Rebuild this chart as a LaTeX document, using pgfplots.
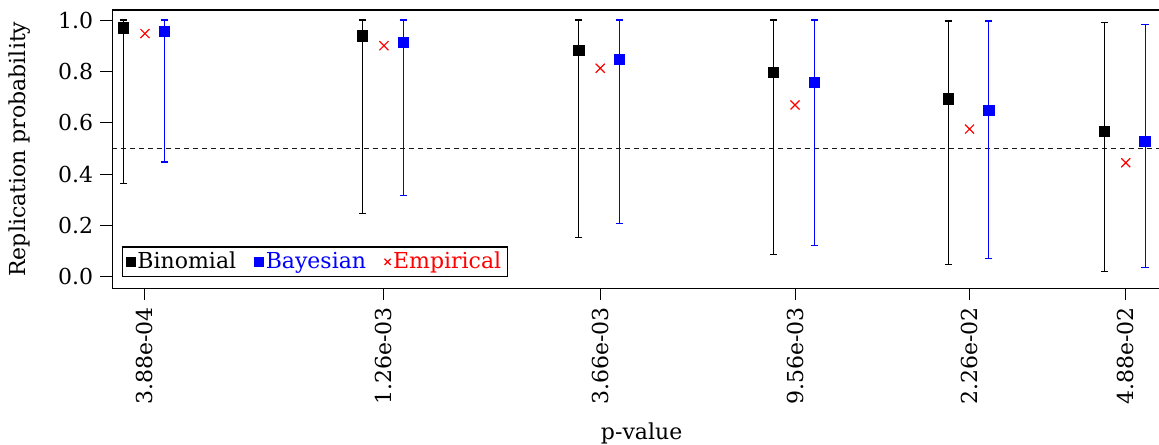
\documentclass[border=0pt]{standalone}
\usepackage{pgfplots}
\pgfplotsset{compat=1.18}
\usepackage{pgfplotstable}
\usepackage{fontspec}
\setmainfont{DejaVu Serif}

% Binomial estimate with its interval, plotted slightly left of each p-value
\pgfplotstableread{
x          y      lo     hi
3.492e-4   0.970  0.362  1.000
1.134e-3   0.938  0.245  1.000
3.294e-3   0.882  0.152  1.000
8.604e-3   0.797  0.085  1.000
2.034e-2   0.692  0.046  0.996
4.392e-2   0.566  0.019  0.989
}\binomial

% Bayesian estimate with its interval, plotted slightly right of each p-value
\pgfplotstableread{
x          y      lo     hi
4.268e-4   0.956  0.447  1.000
1.386e-3   0.913  0.316  1.000
4.026e-3   0.847  0.206  1.000
1.0516e-2  0.757  0.123  1.000
2.486e-2   0.648  0.070  0.996
5.368e-2   0.527  0.035  0.981
}\bayesian

% Observed replication rate at each p-value
\pgfplotstableread{
x          y
3.88e-4    0.947
1.26e-3    0.900
3.66e-3    0.812
9.56e-3    0.669
2.26e-2    0.575
4.88e-2    0.444
}\empirical

\begin{document}
\begin{tikzpicture}
\begin{axis}[
  name=ax,
  scale only axis,
  width=529.35pt, height=139.15pt,
  xmode=log,
  xmin=3.302e-4, xmax=6.101e-2,
  ymin=-0.0452, ymax=1.039,
  font=\fontsize{11}{13}\selectfont,
  axis line style={line width=0.6pt},
  tick style={line width=0.5pt, black},
  tick align=outside,
  major tick length=6pt,
  xtick pos=left, ytick pos=left,
  xminorticks=false,
  xtick={3.88e-4,1.26e-3,3.66e-3,9.56e-3,2.26e-2,4.88e-2},
  xticklabels={3.88e-04,1.26e-03,3.66e-03,9.56e-03,2.26e-02,4.88e-02},
  xticklabel style={rotate=90, anchor=east},
  ytick={0,0.2,0.4,0.6,0.8,1.0},
  yticklabels={0.0,0.2,0.4,0.6,0.8,1.0},
  yticklabel style={anchor=east},
  xlabel={p-value},
  ylabel={Replication probability},
  every axis x label/.style={at={(axis description cs:0.5,-0.52)}, anchor=center},
  every axis y label/.style={at={(axis description cs:-0.0877,0.5)}, anchor=center, rotate=90},
  legend columns=3,
  legend cell align=left,
  legend image code/.code={\draw[#1, mark size=2.2pt] plot coordinates {(0pt,0pt)};},
  legend style={
    at={(0.0089,0.0395)}, anchor=south west,
    draw=black, line width=0.6pt,
    inner xsep=2pt, inner ysep=1.5pt,
    nodes={inner xsep=1.2pt, inner ysep=1pt},
    /tikz/every even column/.append style={column sep=8pt},
  },
]

% reference line at one half
\addplot[forget plot, line width=0.55pt, black!90, dash pattern=on 2.5pt off 2pt]
  coordinates {(3.302e-4,0.5) (6.101e-2,0.5)};

\addplot[only marks, mark=square*, mark size=2.6pt, black,
  error bars/.cd, y dir=both, y explicit,
  error bar style={line width=0.5pt, black},
  error mark options={rotate=90, line width=0.6pt, mark size=1.8pt, black}]
  table[x=x, y=y,
        y error plus expr=\thisrow{hi}-\thisrow{y},
        y error minus expr=\thisrow{y}-\thisrow{lo}] {\binomial};
\addlegendentry{Binomial}

\addplot[only marks, mark=square*, mark size=2.6pt, blue,
  error bars/.cd, y dir=both, y explicit,
  error bar style={line width=0.5pt, blue},
  error mark options={rotate=90, line width=0.6pt, mark size=1.8pt, blue}]
  table[x=x, y=y,
        y error plus expr=\thisrow{hi}-\thisrow{y},
        y error minus expr=\thisrow{y}-\thisrow{lo}] {\bayesian};
\addlegendentry{\textcolor{blue}{Bayesian}}

\addplot[only marks, mark=x, mark size=3.2pt, red, mark options={line width=0.6pt}]
  table[x=x, y=y] {\empirical};
\addlegendentry{\textcolor{red}{Empirical}}

\end{axis}
\pgfresetboundingbox
\path ([shift={(-56.15pt,-77.85pt)}]ax.south west)
  rectangle ([shift={(523.35pt,144.15pt)}]ax.south west);
\end{tikzpicture}
\end{document}
